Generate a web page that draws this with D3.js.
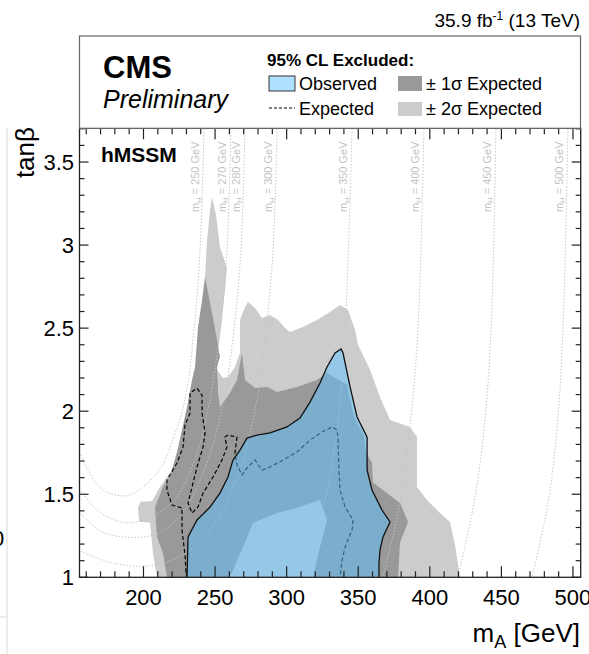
<!DOCTYPE html>
<html><head><meta charset="utf-8">
<script src="https://cdn.jsdelivr.net/npm/d3@7"></script>
<style>
body{margin:0;background:#fff;}
svg{display:block;font-family:"Liberation Sans",Arial,Helvetica,sans-serif;}
</style>
</head><body>
<svg id="chart" width="589" height="654"></svg>
<script>
// ---------- data (mA [GeV], tan beta) ----------
const xMajorTicks = [200, 250, 300, 350, 400, 450, 500];
const yMajorTicks = [1, 1.5, 2, 2.5, 3, 3.5];
const yTickLabels = ["1", "1.5", "2", "2.5", "3", "3.5"];

const band2Sigma = [
 [209.4,1.0],[206.6,1.146],[204.5,1.33],[197.0,1.335],[196.2,1.42],[198.0,1.455],[206.0,1.46],
 [211.5,1.544],[220.0,1.646],[225.5,1.826],[229.7,1.97],[234.0,2.12],[237.4,2.29],[238.8,2.48],
 [241.6,2.65],[243.0,2.807],[244.4,3.03],[246.5,3.21],[247.9,3.289],[250.7,3.18],[253.4,2.988],
 [258.3,2.862],[256.9,2.729],[254.8,2.549],[252.1,2.368],[251.4,2.248],[255.5,2.2],[259.0,2.206],
 [263.9,2.266],[267.4,2.35],[267.4,2.549],[270.9,2.627],[273.0,2.657],[277.9,2.621],[282.8,2.561],
 [288.4,2.579],[294.0,2.549],[298.8,2.501],[302.3,2.477],[311.4,2.507],[321.2,2.549],[330.3,2.597],
 [337.3,2.639],[342.9,2.609],[347.8,2.489],[349.9,2.399],[358.3,2.248],[365.2,2.085],[372.2,1.947],
 [386.2,1.905],[391.0,1.844],[391.0,1.544],[398.0,1.465],[407.1,1.387],[414.1,1.333],[417.6,1.194],
 [421.1,1.0]
];
const band1Sigma = [
 [216.4,1.0],[213.6,1.146],[209.4,1.243],[208.0,1.423],[213.6,1.544],[218.5,1.604],[223.4,1.748],
 [226.9,1.887],[230.4,2.025],[233.9,2.188],[236.0,2.266],[238.1,2.507],[240.9,2.669],[243.0,2.807],
 [247.9,2.591],[251.4,2.429],[253.4,2.327],[251.4,2.266],[252.1,2.109],[253.4,2.025],[260.4,2.109],
 [265.3,2.188],[268.8,2.35],[270.9,2.188],[277.9,2.139],[286.3,2.146],[293.3,2.115],[307.2,2.146],
 [321.2,2.188],[328.2,2.23],[334.0,2.2],[342.0,2.16],[347.0,1.97],[354.0,1.85],[355.5,1.75],
 [359.6,1.69],[360.3,1.57],[379.2,1.447],[384.8,1.333],[379.2,1.209],[377.8,1.0]
];
const bandInner = [
 [260.4,1.0],[269.5,1.182],[276.5,1.327],[293.3,1.387],[309.3,1.423],[323.3,1.465],[328.2,1.345],
 [323.3,1.182],[318.4,1.0]
];
const expectedLimit = [
 [229.7,1.03],[229.0,1.134],[226.9,1.285],[226.9,1.417],[219.9,1.435],[216.4,1.525],[216.4,1.586],
 [223.4,1.688],[227.6,1.784],[229.0,1.917],[232.5,1.989],[232.5,2.109],[237.4,2.139],[240.9,2.097],
 [240.9,1.989],[243.0,1.869],[241.6,1.784],[237.4,1.664],[233.9,1.544],[231.1,1.447],[233.9,1.387],
 [238.1,1.423],[241.6,1.507],[248.6,1.604],[254.8,1.706],[258.3,1.784],[256.9,1.844],[259.0,1.856],
 [265.3,1.844],[263.9,1.748],[265.3,1.676],[268.8,1.616],[272.3,1.658],[277.9,1.706],[282.8,1.646],
 [288.4,1.664],[297.5,1.706],[307.2,1.754],[316.3,1.826],[324.7,1.875],[331.7,1.905],[335.2,1.887],
 [335.9,1.826],[336.6,1.628],[337.3,1.525],[340.8,1.423],[346.4,1.345],[345.7,1.285],[340.8,1.182],
 [338.7,1.104],[337.3,1.0]
];
const observedLimit = [
 [230.4,1.0],[231.1,1.243],[237.4,1.345],[246.5,1.423],[253.4,1.507],[259.0,1.604],[262.5,1.706],
 [267.4,1.766],[272.3,1.838],[279.3,1.856],[288.4,1.869],[300.2,1.905],[309.3,1.959],[316.3,2.055],
 [323.3,2.17],[328.2,2.266],[333.8,2.35],[338.0,2.374],[339.4,2.35],[344.3,2.146],[349.2,1.965],
 [356.2,1.844],[356.2,1.646],[359.6,1.525],[366.6,1.405],[372.2,1.333],[367.3,1.243],[365.2,1.164],
 [364.5,1.086],[364.5,1.0]
];
// iso-mH contours
const mHValues = [250, 270, 280, 300, 350, 400, 450, 500];
const mH250 = [[242.3,3.7],[239.5,2.97],[235.3,2.49],[229.0,2.07],[220.6,1.83],[211.5,1.65],[197.6,1.53],[185.7,1.49],[169.6,1.54],[155.6,1.75]];
const mH270 = [[261.1,3.7],[258.3,2.97],[253.4,2.49],[246.5,2.07],[236.0,1.71],[222.0,1.47],[204.5,1.36],[187.1,1.33],[169.6,1.39],[155.6,1.53]];
const mH280 = [[270.9,3.7],[268.1,2.97],[263.2,2.49],[256.2,2.07],[245.1,1.71],[229.0,1.41],[211.5,1.27],[190.6,1.24],[169.6,1.28],[155.6,1.39]];
const mH300 = [[293.3,3.7],[290.5,2.97],[285.6,2.49],[279.3,2.07],[267.4,1.65],[251.4,1.35],[230.4,1.15],[204.5,1.07],[176.6,1.09],[155.6,1.16]];
const mH350 = [[345.7,3.7],[340.8,2.49],[335.2,1.89],[326.8,1.47],[316.3,1.22],[304.4,1.04],[300.2,1.0]];
const mH400 = [[395.9,3.7],[391.7,2.49],[386.2,1.91],[379.2,1.45],[367.3,1.0]];
const mH450 = [[446.2,3.7],[442.8,2.49],[437.9,1.89],[430.9,1.45],[419.7,1.0]];
const mH500 = [[496.5,3.7],[493.0,2.49],[488.8,1.89],[482.6,1.45],[471.4,1.0]];
const mHCurves = [mH250, mH270, mH280, mH300, mH350, mH400, mH450, mH500];

// ---------- layout ----------
const svg = d3.select("#chart");
const X0 = 79.5, X1 = 580.7, Y0 = 128.3, Y1 = 577.3;
const x = d3.scaleLinear().domain([155.3, 505.4]).range([X0, X1]);
const y = d3.scaleLinear().domain([1, 3.703]).range([Y1, Y0]);

// cropping artefacts at left edge
svg.append("line").attr("x1",7).attr("x2",7).attr("y1",128).attr("y2",654).attr("stroke","#d8d8d8").attr("stroke-width",1);
svg.append("line").attr("x1",0).attr("x2",7).attr("y1",617).attr("y2",617).attr("stroke","#d8d8d8").attr("stroke-width",1);
svg.append("text").attr("x",-8).attr("y",546).attr("font-size",22).text("0");

svg.append("defs").append("clipPath").attr("id","plotclip")
  .append("rect").attr("x",X0).attr("y",Y0).attr("width",X1-X0).attr("height",Y1-Y0);
const plot = svg.append("g").attr("clip-path","url(#plotclip)");

const area = d3.line().x(d => x(d[0])).y(d => y(d[1]));
const poly = pts => area(pts) + "Z";

plot.append("path").attr("d", poly(band2Sigma)).attr("fill","#cccccc");
plot.append("path").attr("d", poly(band1Sigma)).attr("fill","#999999");
plot.append("path").attr("d", poly(bandInner)).attr("fill","#cccccc");

// iso-mH lines
const smooth = d3.line().x(d => x(d[0])).y(d => y(d[1])).curve(d3.curveCatmullRom.alpha(0.5));
mHCurves.forEach(c => {
  plot.append("path").attr("d", smooth(c)).attr("fill","none")
    .attr("stroke","#c4c4c4").attr("stroke-width",1).attr("stroke-dasharray","1.4,1.8");
});
mHValues.forEach((m,i) => {
  const top = mHCurves[i][0];
  const t = svg.append("text")
    .attr("transform", `translate(${x(top[0]) - 5},212) rotate(-90)`)
    .attr("font-size", 11).attr("fill","#c4c4c4");
  t.append("tspan").text("m");
  t.append("tspan").attr("font-size",7.5).attr("dy",2.5).text("H");
  t.append("tspan").attr("dy",-2.5).text(` = ${m} GeV`);
});

// expected (dashed)
plot.append("path").attr("d", area(expectedLimit)).attr("fill","none")
  .attr("stroke","#000").attr("stroke-width",1.2).attr("stroke-dasharray","4,2.5");
// observed (translucent fill + outline)
plot.append("path").attr("d", poly(observedLimit)).attr("fill","rgb(91,195,255)").attr("fill-opacity",0.5);
plot.append("path").attr("d", area(observedLimit)).attr("fill","none").attr("stroke","#111").attr("stroke-width",1.3);

// ---------- axes ----------
const xMinor = d3.range(160, 510, 10).filter(v => !xMajorTicks.includes(v));
const yMinor = d3.range(11, 38, 1).map(v => v/10).filter(v => v % 0.5 !== 0);
const frame = svg.append("g").attr("stroke","#222").attr("stroke-width",1.2);
xMajorTicks.forEach(v => {
  frame.append("line").attr("x1",x(v)).attr("x2",x(v)).attr("y1",Y1).attr("y2",Y1-11);
  frame.append("line").attr("x1",x(v)).attr("x2",x(v)).attr("y1",Y0).attr("y2",Y0+11);
});
xMinor.forEach(v => {
  frame.append("line").attr("x1",x(v)).attr("x2",x(v)).attr("y1",Y1).attr("y2",Y1-6);
  frame.append("line").attr("x1",x(v)).attr("x2",x(v)).attr("y1",Y0).attr("y2",Y0+6);
});
yMajorTicks.forEach(v => {
  frame.append("line").attr("x1",X0).attr("x2",X0+9).attr("y1",y(v)).attr("y2",y(v));
  frame.append("line").attr("x1",X1).attr("x2",X1-9).attr("y1",y(v)).attr("y2",y(v));
});
yMinor.forEach(v => {
  frame.append("line").attr("x1",X0).attr("x2",X0+5).attr("y1",y(v)).attr("y2",y(v));
  frame.append("line").attr("x1",X1).attr("x2",X1-5).attr("y1",y(v)).attr("y2",y(v));
});
svg.append("rect").attr("x",X0).attr("y",Y0).attr("width",X1-X0).attr("height",Y1-Y0)
  .attr("fill","none").attr("stroke","#222").attr("stroke-width",1.3);

xMajorTicks.forEach(v => {
  svg.append("text").attr("x",x(v)).attr("y",605).attr("text-anchor","middle").attr("font-size",22).text(v);
});
yMajorTicks.forEach((v,i) => {
  svg.append("text").attr("x",74).attr("y",y(v)).attr("dy","0.36em").attr("text-anchor","end").attr("font-size",22).text(yTickLabels[i]);
});

// axis titles
const xt = svg.append("text").attr("x",580).attr("y",642).attr("text-anchor","end").attr("font-size",26);
xt.append("tspan").text("m");
xt.append("tspan").attr("font-size",18).attr("dy",6).text("A");
xt.append("tspan").attr("dy",-6).text(" [GeV]");
svg.append("text").attr("transform","translate(34,127) rotate(-90)").attr("text-anchor","end")
  .attr("font-size",26).text("tanβ");

// ---------- header / legend ----------
const tt = svg.append("text").attr("x",580).attr("y",27).attr("text-anchor","end").attr("font-size",19);
tt.append("tspan").text("35.9 fb");
tt.append("tspan").attr("font-size",12).attr("dy",-7).text("-1");
tt.append("tspan").attr("dy",7).text(" (13 TeV)");

svg.append("rect").attr("x",79.5).attr("y",36).attr("width",501).attr("height",92.3)
  .attr("fill","#fff").attr("stroke","#666").attr("stroke-width",1.2);
svg.append("text").attr("x",103).attr("y",78).attr("font-size",31).attr("font-weight","bold").text("CMS");
svg.append("text").attr("x",103).attr("y",108).attr("font-size",25).attr("font-style","italic").text("Preliminary");
svg.append("text").attr("x",267).attr("y",66).attr("font-size",17).attr("font-weight","bold").text("95% CL Excluded:");

svg.append("rect").attr("x",269).attr("y",76).attr("width",26).attr("height",15)
  .attr("fill","rgb(91,195,255)").attr("fill-opacity",0.5).attr("stroke","#333").attr("stroke-width",1);
svg.append("text").attr("x",299).attr("y",90).attr("font-size",18).text("Observed");
svg.append("line").attr("x1",269).attr("x2",295).attr("y1",108).attr("y2",108)
  .attr("stroke","#000").attr("stroke-width",1).attr("stroke-dasharray","3,2");
svg.append("text").attr("x",299).attr("y",115).attr("font-size",18).text("Expected");
svg.append("rect").attr("x",398).attr("y",76).attr("width",24).attr("height",15).attr("fill","#999999");
svg.append("text").attr("x",426).attr("y",90).attr("font-size",18).text("± 1σ Expected");
svg.append("rect").attr("x",398).attr("y",102).attr("width",24).attr("height",14).attr("fill","#cccccc");
svg.append("text").attr("x",426).attr("y",115).attr("font-size",18).text("± 2σ Expected");

svg.append("text").attr("x",101).attr("y",162).attr("font-size",21).attr("font-weight","bold").text("hMSSM");
</script>
</body></html>
